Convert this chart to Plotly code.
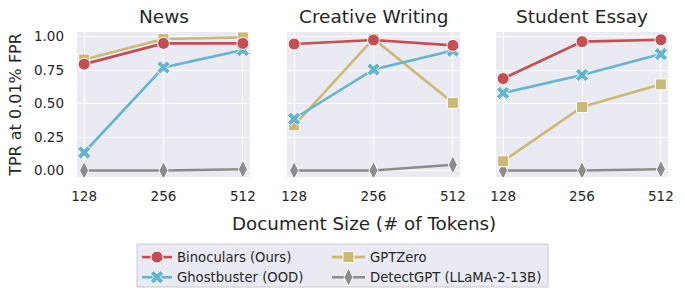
import plotly.graph_objects as go
from plotly.subplots import make_subplots

domains = ["News", "Creative Writing", "Student Essay"]
doc_sizes = ["128", "256", "512"]

binoculars = {"News": [0.795, 0.95, 0.95],
              "Creative Writing": [0.945, 0.975, 0.935],
              "Student Essay": [0.687, 0.963, 0.977]}
ghostbuster = {"News": [0.135, 0.77, 0.90],
               "Creative Writing": [0.387, 0.755, 0.896],
               "Student Essay": [0.58, 0.714, 0.87]}
gptzero = {"News": [0.83, 0.983, 0.995],
           "Creative Writing": [0.338, 0.985, 0.506],
           "Student Essay": [0.07, 0.475, 0.644]}
detectgpt = {"News": [0.0, 0.0, 0.01],
             "Creative Writing": [0.0, 0.0, 0.043],
             "Student Essay": [0.0, 0.0, 0.01]}

y_ticks = [0.0, 0.25, 0.5, 0.75, 1.0]
y_ticklabels = ["0.00", "0.25", "0.50", "0.75", "1.00"]

FONT = "DejaVu Sans"
TXT = "#262626"

# drawing order (bottom to top), legend placement
series = [
    ("DetectGPT (LLaMA-2-13B)", detectgpt, "#8C8C8C", "diamond-tall", 13, "legend2", 2),
    ("GPTZero", gptzero, "#CCB974", "square", 11, "legend2", 1),
    ("Ghostbuster (OOD)", ghostbuster, "#64B5CD", "x", 12, "legend", 2),
    ("Binoculars (Ours)", binoculars, "#C44E52", "circle", 12, "legend", 1),
]

W, H = 685, 297
L, R, T, B = 77, 17, 32, 120
pw = W - L - R
ph = H - T - B

def px(x):
    return (x - L) / pw

def py(y):
    return (H - B - y) / ph

fig = make_subplots(rows=1, cols=3, shared_yaxes=True)
dom = [(px(77), px(250)), (px(287), px(460)), (px(496), px(668))]

for ci, d in enumerate(domains):
    for name, data, color, sym, size, leg, rank in series:
        fig.add_trace(go.Scatter(
            x=doc_sizes, y=data[d], mode="lines+markers", name=name,
            line=dict(color=color, width=2.6),
            marker=dict(symbol=sym, size=size, color=color,
                        line=dict(color="white", width=1)),
            showlegend=(ci == 0), legend=leg, legendrank=rank,
        ), row=1, col=ci + 1)

for ci in range(3):
    xa = "xaxis" if ci == 0 else f"xaxis{ci+1}"
    ya = "yaxis" if ci == 0 else f"yaxis{ci+1}"
    fig.layout[xa].update(domain=list(dom[ci]), type="category",
                          range=[-0.09, 2.09], showgrid=True,
                          gridcolor="white", gridwidth=1.2, zeroline=False,
                          showline=False, ticks="", automargin=False,
                          ticklabelstandoff=9,
                          tickfont=dict(family=FONT, size=13.5, color=TXT))
    fig.layout[ya].update(range=[-0.048, 1.035], tickvals=y_ticks,
                          ticktext=y_ticklabels, showgrid=True,
                          gridcolor="white", gridwidth=1.2, zeroline=False,
                          showline=False, ticks="", automargin=False,
                          ticklabelstandoff=12,
                          showticklabels=(ci == 0),
                          tickfont=dict(family=FONT, size=13.5, color=TXT))
    fig.add_annotation(text=domains[ci], x=(dom[ci][0] + dom[ci][1]) / 2,
                       y=1.0, xref="paper", yref="paper", yanchor="bottom",
                       xanchor="center", yshift=3, showarrow=False,
                       font=dict(family=FONT, size=18.5, color=TXT))

fig.layout.yaxis.update(title=dict(text="TPR at 0.01% FPR",
                                   font=dict(family=FONT, size=16, color=TXT),
                                   standoff=8))

fig.add_annotation(text="Document Size (# of Tokens)", x=px(363.5), y=py(223),
                   xref="paper", yref="paper", showarrow=False,
                   xanchor="center", yanchor="middle",
                   font=dict(family=FONT, size=18.3, color=TXT))

# legend frame
fig.add_shape(type="rect", xref="paper", yref="paper",
              x0=px(137), x1=px(548), y0=py(287), y1=py(244),
              fillcolor="#EAEAF2", line=dict(color="#CCCCCC", width=1),
              layer="below")

legfont = dict(family=FONT, size=13.2, color=TXT)
fig.update_layout(
    width=W, height=H,
    margin=dict(l=L, r=R, t=T, b=B, autoexpand=False),
    paper_bgcolor="white", plot_bgcolor="#EAEAF2",
    font=dict(family=FONT, color=TXT),
    legend=dict(x=px(137), y=py(242), xanchor="left", yanchor="top",
                bgcolor="rgba(0,0,0,0)", borderwidth=0, font=legfont,
                orientation="v", traceorder="normal", tracegroupgap=0),
    legend2=dict(x=px(327), y=py(242), xanchor="left", yanchor="top",
                 bgcolor="rgba(0,0,0,0)", borderwidth=0, font=legfont,
                 orientation="v", traceorder="normal", tracegroupgap=0,
                 itemwidth=33),
)

fig.write_html("out.html", config={"displayModeBar": False},
               post_script="document.body.style.margin='0';")
